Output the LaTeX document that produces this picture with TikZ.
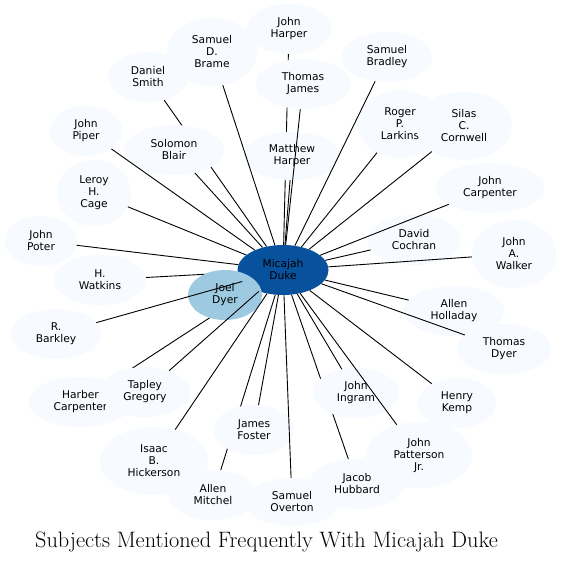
\documentclass[tikz,border=0pt]{standalone}
\usepackage{fontspec}
\newfontfamily\dvs{DejaVu Sans}
\usetikzlibrary{shapes.geometric}
\definecolor{bla}{HTML}{F7FBFF}
\definecolor{blj}{HTML}{9ECAE1}
\definecolor{bld}{HTML}{08519C}
\tikzset{
  pn/.style 2 args={ellipse, fill=bla, inner sep=0pt, align=center,
    minimum width=#1pt, minimum height=#2pt,
    font=\dvs\fontsize{10.7}{12}\selectfont},
  edge/.style={draw=black, line width=0.9pt}
}
\begin{document}
\begin{tikzpicture}[x=1pt,y=-1pt]
\useasboundingbox (0,0) rectangle (561,563);
% ----- node outlines declared first (invisible) so that edges can lie beneath
\begin{scope}[every node/.append style={fill=none, text opacity=0}]
\node[pn={91}{50}] (duke) at (283,270) {Micajah\\Duke};
\node[pn={74}{50}] (joel) at (225,295) {Joel\\Dyer};
\node[pn={84}{50}] (jharper) at (289,29) {John\\Harper};
\node[pn={90}{68}] (brame) at (212,52) {Samuel\\D.\\Brame};
\node[pn={80}{50}] (dsmith) at (148,77) {Daniel\\Smith};
\node[pn={94}{50}] (tjames) at (303,84) {Thomas\\James};
\node[pn={90}{50}] (bradley) at (387,57) {Samuel\\Bradley};
\node[pn={72}{50}] (piper) at (86,131) {John\\Piper};
\node[pn={100}{50}] (blair) at (174,150) {Solomon\\Blair};
\node[pn={96}{48}] (mharper) at (292,156) {Matthew\\Harper};
\node[pn={84}{68}] (larkins) at (400,124) {Roger\\P.\\Larkins};
\node[pn={96}{68}] (cornwell) at (464,126) {Silas\\C.\\Cornwell};
\node[pn={74}{66}] (cage) at (94,193) {Leroy\\H.\\Cage};
\node[pn={108}{50}] (jcarpenter) at (490,188) {John\\Carpenter};
\node[pn={72}{50}] (poter) at (41,241) {John\\Poter};
\node[pn={94}{50}] (cochran) at (414,240) {David\\Cochran};
\node[pn={84}{68}] (walker) at (514,254) {John\\A.\\Walker};
\node[pn={92}{50}] (watkins) at (100,280) {H.\\Watkins};
\node[pn={100}{50}] (holladay) at (454,311) {Allen\\Holladay};
\node[pn={90}{50}] (barkley) at (56,334) {R.\\Barkley};
\node[pn={94}{50}] (tdyer) at (504,349) {Thomas\\Dyer};
\node[pn={104}{50}] (hcarpenter) at (80.5,402) {Harber\\Carpenter};
\node[pn={90}{50}] (tapley) at (145,392) {Tapley\\Gregory};
\node[pn={86}{50}] (ingram) at (356,393) {John\\Ingram};
\node[pn={78}{50}] (kemp) at (457,403) {Henry\\Kemp};
\node[pn={80}{50}] (jfoster) at (254,430) {James\\Foster};
\node[pn={106}{66}] (patterson) at (419,455) {John\\Patterson\\Jr.};
\node[pn={108}{68}] (hickerson) at (154,461) {Isaac\\B.\\Hickerson};
\node[pn={96}{50}] (hubbard) at (357,484) {Jacob\\Hubbard};
\node[pn={88}{50}] (mitchel) at (213,495) {Allen\\Mitchel};
\node[pn={94}{48}] (overton) at (292,502) {Samuel\\Overton};
\end{scope}
% ----- edges drawn beneath the nodes
\foreach \t in {joel,jharper,dsmith,watkins,hcarpenter,hubbard,mitchel}
  \draw[edge] (duke) -- (\t);
% ----- visible nodes
\node[pn={91}{50}, fill=bld] at (duke) {Micajah\\Duke};
\node[pn={74}{50}, fill=blj] at (joel) {Joel\\Dyer};
\node[pn={84}{50}] at (jharper) {John\\Harper};
\node[pn={90}{68}] at (brame) {Samuel\\D.\\Brame};
\node[pn={80}{50}] at (dsmith) {Daniel\\Smith};
\node[pn={94}{50}] at (tjames) {Thomas\\James};
\node[pn={90}{50}] at (bradley) {Samuel\\Bradley};
\node[pn={72}{50}] at (piper) {John\\Piper};
\node[pn={100}{50}] at (blair) {Solomon\\Blair};
\node[pn={96}{48}] at (mharper) {Matthew\\Harper};
\node[pn={84}{68}] at (larkins) {Roger\\P.\\Larkins};
\node[pn={96}{68}] at (cornwell) {Silas\\C.\\Cornwell};
\node[pn={74}{66}] at (cage) {Leroy\\H.\\Cage};
\node[pn={108}{50}] at (jcarpenter) {John\\Carpenter};
\node[pn={72}{50}] at (poter) {John\\Poter};
\node[pn={94}{50}] at (cochran) {David\\Cochran};
\node[pn={84}{68}] at (walker) {John\\A.\\Walker};
\node[pn={92}{50}] at (watkins) {H.\\Watkins};
\node[pn={100}{50}] at (holladay) {Allen\\Holladay};
\node[pn={90}{50}] at (barkley) {R.\\Barkley};
\node[pn={94}{50}] at (tdyer) {Thomas\\Dyer};
\node[pn={104}{50}] at (hcarpenter) {Harber\\Carpenter};
\node[pn={90}{50}] at (tapley) {Tapley\\Gregory};
\node[pn={86}{50}] at (ingram) {John\\Ingram};
\node[pn={78}{50}] at (kemp) {Henry\\Kemp};
\node[pn={80}{50}] at (jfoster) {James\\Foster};
\node[pn={106}{66}] at (patterson) {John\\Patterson\\Jr.};
\node[pn={108}{68}] at (hickerson) {Isaac\\B.\\Hickerson};
\node[pn={96}{50}] at (hubbard) {Jacob\\Hubbard};
\node[pn={88}{50}] at (mitchel) {Allen\\Mitchel};
\node[pn={94}{48}] at (overton) {Samuel\\Overton};
% ----- edges drawn over other nodes
\foreach \t in {brame,tjames,bradley,piper,blair,mharper,larkins,cornwell,cage,jcarpenter,poter,cochran,walker,holladay,barkley,tdyer,tapley,ingram,kemp,jfoster,patterson,hickerson,overton}
  \draw[edge] (duke) -- (\t);
% ----- title
\node[anchor=base, font=\fontsize{22.3}{26}\selectfont, inner sep=0pt] (title) at (266.5,547.5) {Subjects Mentioned Frequently With Micajah Duke};
\end{tikzpicture}
\end{document}
